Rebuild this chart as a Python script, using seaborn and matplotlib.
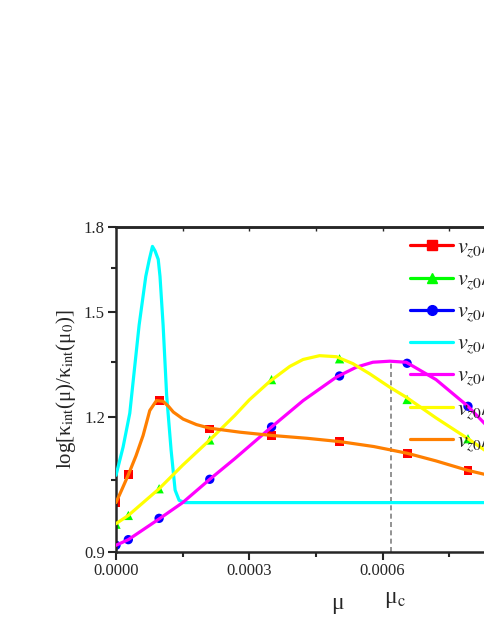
import matplotlib
matplotlib.use('Agg')  # no display
import matplotlib.pyplot as plt
from matplotlib.lines import Line2D
from matplotlib.ticker import FixedLocator, NullFormatter
import seaborn as sns

# smooth curves
mu_cyan = [0, 1.6e-5, 3.1e-5, 3.9e-5, 5.2e-5, 6.7e-5, 7.5e-5, 8.2e-5, 8.8e-5, 9.5e-5,
           9.9e-5, 1.06e-4, 1.14e-4, 1.24e-4, 1.33e-4, 1.42e-4, 1.55e-4, 9.0e-4]
k_cyan = [1.06, 1.126, 1.21, 1.30, 1.46, 1.62, 1.68, 1.727, 1.71, 1.68,
          1.62, 1.46, 1.256, 1.118, 1.027, 1.005, 1.0, 1.0]

mu_orange = [0, 1.4e-5, 2.77e-5, 4.5e-5, 6.1e-5, 7.6e-5, 9.1e-5, 1.06e-4, 1.18e-4, 1.29e-4,
             1.51e-4, 1.81e-4, 2.11e-4, 2.79e-4, 3.5e-4, 4.3e-4, 5.03e-4, 5.8e-4, 6.55e-4,
             7.2e-4, 7.92e-4, 8.3e-4, 8.7e-4]
k_orange = [1.0, 1.03, 1.061, 1.105, 1.154, 1.217, 1.243, 1.241, 1.228, 1.213,
            1.195, 1.181, 1.172, 1.162, 1.154, 1.147, 1.139, 1.127, 1.111,
            1.093, 1.071, 1.062, 1.05]

mu_yellow = [0, 2.77e-5, 9.7e-5, 1.5e-4, 2.11e-4, 2.67e-4, 3.0e-4, 3.46e-4, 3.91e-4, 4.21e-4,
             4.58e-4, 4.96e-4, 5.33e-4, 5.71e-4, 6.16e-4, 6.53e-4, 7.2e-4, 7.92e-4, 8.3e-4, 8.7e-4]
k_yellow = [0.956, 0.973, 1.030, 1.083, 1.143, 1.204, 1.245, 1.295, 1.337, 1.357,
            1.368, 1.365, 1.345, 1.316, 1.279, 1.252, 1.198, 1.146, 1.118, 1.09]

mu_magenta = [0, 2.77e-5, 9.9e-5, 1.5e-4, 2.11e-4, 2.67e-4, 3.5e-4, 4.21e-4, 4.96e-4, 5.41e-4,
              5.78e-4, 6.16e-4, 6.53e-4, 7.2e-4, 7.92e-4, 8.3e-4, 8.7e-4]
k_magenta = [0.913, 0.924, 0.967, 1.0, 1.051, 1.098, 1.175, 1.243, 1.307, 1.335,
             1.349, 1.352, 1.349, 1.30, 1.228, 1.183, 1.14]

# marker-only series
mu_pts = [0, 2.77e-5, 9.7e-5, 2.11e-4, 3.5e-4, 5.03e-4, 6.55e-4, 7.92e-4]
k_red = [1.0, 1.061, 1.243, 1.170, 1.154, 1.139, 1.111, 1.071]
k_green = [0.955, 0.973, 1.030, 1.143, 1.30, 1.359, 1.246, 1.146]
k_blue = [0.913, 0.924, 0.967, 1.051, 1.175, 1.31, 1.346, 1.228]

mu_c = 6.18e-4
k_c = 1.352

labels = [r"$v_{z0}/v_A=0.1$", r"$v_{z0}/v_A=0.2$", r"$v_{z0}/v_A=0.3$", r"$v_{z0}/v_A=0.4$",
          r"$v_{z0}/v_A=0.5$", r"$v_{z0}/v_A=0.6$", r"$v_{z0}/v_A=0.7$"]
colors = ['#FF0000', '#00FF00', '#0000FF', '#00FFFF', '#FF00FF', '#FFFF00', '#FF7F00']

sns.set_style('ticks')
plt.rcParams['font.family'] = ['Liberation Serif', 'DejaVu Serif']
plt.rcParams['mathtext.fontset'] = 'stix'

fig = plt.figure(figsize=(4.85, 6.27), dpi=100)
ax = fig.add_axes([116 / 485, 75 / 627, 400 / 485, 325 / 627])

lw = 2.3
ax.vlines(mu_c, 0.9, k_c, colors='#808080', linestyles=(0, (3, 2)), lw=1.2, zorder=1)

sns.scatterplot(x=mu_pts, y=k_red, ax=ax, color=colors[0], marker='s', s=40, edgecolor='none', zorder=2)
sns.scatterplot(x=mu_pts, y=k_green, ax=ax, color=colors[1], marker='^', s=45, edgecolor='none', zorder=2)
sns.scatterplot(x=mu_pts, y=k_blue, ax=ax, color=colors[2], marker='o', s=45, edgecolor='none', zorder=2)

sns.lineplot(x=mu_cyan, y=k_cyan, ax=ax, color=colors[3], lw=lw, zorder=3)
sns.lineplot(x=mu_magenta, y=k_magenta, ax=ax, color=colors[4], lw=lw, zorder=3)
sns.lineplot(x=mu_yellow, y=k_yellow, ax=ax, color=colors[5], lw=lw, zorder=3)
sns.lineplot(x=mu_orange, y=k_orange, ax=ax, color=colors[6], lw=lw, zorder=3)

ax.set_yscale('log')
ax.set_xlim(0, 0.0009)
ax.set_ylim(0.9, 1.8)
ax.yaxis.set_major_locator(FixedLocator([0.9, 1.2, 1.5, 1.8]))
ax.yaxis.set_minor_locator(FixedLocator([1.05, 1.35, 1.65]))
ax.yaxis.set_minor_formatter(NullFormatter())
ax.set_yticklabels(['0.9', '1.2', '1.5', '1.8'])
ax.xaxis.set_major_locator(FixedLocator([0, 0.0003, 0.0006]))
ax.xaxis.set_minor_locator(FixedLocator([0.00015, 0.00045, 0.00075]))
ax.set_xticklabels(['0.0000', '0.0003', '0.0006'])

ax.tick_params(which='major', direction='out', length=6, width=1.5, labelsize=12, pad=2)
ax.tick_params(which='minor', direction='out', length=3.5, width=1.5)
for sp in ax.spines.values():
    sp.set_linewidth(1.8)
    sp.set_visible(True)
ax.spines['top'].set_zorder(5)

# small inward ticks on the top spine
top = ax.secondary_xaxis('top')
top.xaxis.set_major_locator(FixedLocator([0.00015, 0.0003, 0.00045, 0.0006, 0.00075]))
top.tick_params(direction='in', length=3, width=1.0, labeltop=False)
top.spines['top'].set_linewidth(1.8)

ax.set_ylabel(r"log[κ$_{\rm int}$(μ)/κ$_{\rm int}$(μ$_0$)]", fontsize=15, labelpad=4)
fig.text(337 / 485, 1 - 603 / 627, "μ", fontsize=17, ha='center', va='center')
fig.text(395 / 485, 1 - 599 / 627, r"μ$_{\rm c}$", fontsize=17, ha='center', va='center')

handles = [
    Line2D([], [], color=colors[0], lw=lw, marker='s', ms=7),
    Line2D([], [], color=colors[1], lw=lw, marker='^', ms=7),
    Line2D([], [], color=colors[2], lw=lw, marker='o', ms=7),
    Line2D([], [], color=colors[3], lw=lw),
    Line2D([], [], color=colors[4], lw=lw),
    Line2D([], [], color=colors[5], lw=lw),
    Line2D([], [], color=colors[6], lw=lw),
]
fig.legend(handles, labels, loc='upper left', bbox_to_anchor=(410 / 485, 1 - 236 / 627),
           frameon=False, fontsize=16, handlelength=1.95, handletextpad=0.15,
           labelspacing=0.37, borderpad=0, borderaxespad=0)

fig.savefig('out.png', dpi=100)
